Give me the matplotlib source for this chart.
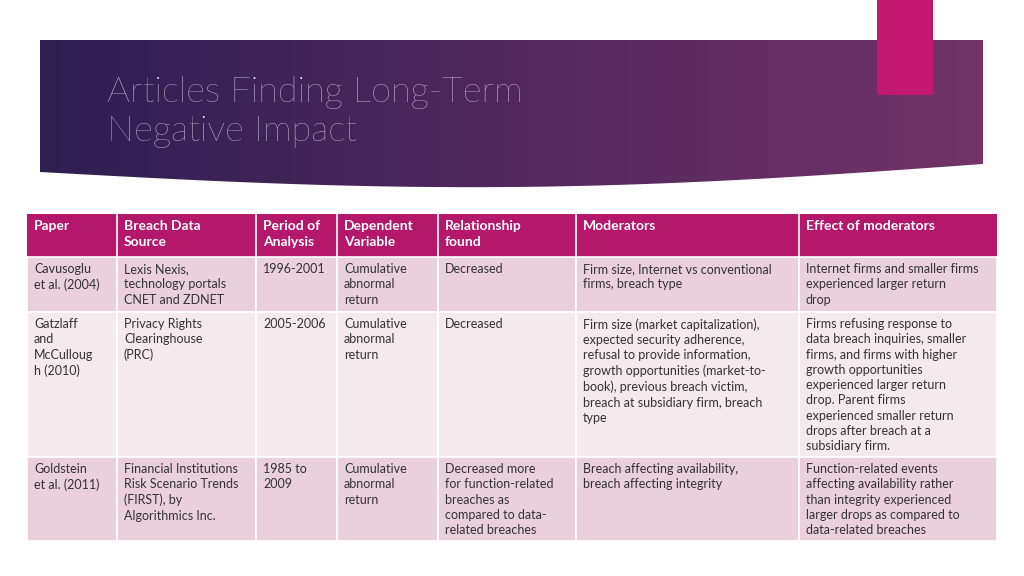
import numpy as np
import matplotlib.pyplot as plt
from matplotlib.patches import Rectangle, Polygon

title = "Articles Finding Long-Term\nNegative Impact"
headers = ["Paper", "Breach Data\nSource", "Period of\nAnalysis", "Dependent\nVariable",
           "Relationship\nfound", "Moderators", "Effect of moderators"]
rows = [
    ["Cavusoglu\net al. (2004)", "Lexis Nexis,\ntechnology portals\nCNET and ZDNET", "1996-2001",
     "Cumulative\nabnormal\nreturn", "Decreased",
     "Firm size, Internet vs conventional\nfirms, breach type",
     "Internet firms and smaller firms\nexperienced larger return\ndrop"],
    ["Gatzlaff\nand\nMcCulloug\nh (2010)", "Privacy Rights\nClearinghouse\n(PRC)", "2005-2006",
     "Cumulative\nabnormal\nreturn", "Decreased",
     "Firm size (market capitalization),\nexpected security adherence,\nrefusal to provide information,\ngrowth opportunities (market-to-\nbook), previous breach victim,\nbreach at subsidiary firm, breach\ntype",
     "Firms refusing response to\ndata breach inquiries, smaller\nfirms, and firms with higher\ngrowth opportunities\nexperienced larger return\ndrop. Parent firms\nexperienced smaller return\ndrops after breach at a\nsubsidiary firm."],
    ["Goldstein\net al. (2011)", "Financial Institutions\nRisk Scenario Trends\n(FIRST), by\nAlgorithmics Inc.", "1985 to\n2009",
     "Cumulative\nabnormal\nreturn", "Decreased more\nfor function-related\nbreaches as\ncompared to data-\nrelated breaches",
     "Breach affecting availability,\nbreach affecting integrity",
     "Function-related events\naffecting availability rather\nthan integrity experienced\nlarger drops as compared to\ndata-related breaches"],
]

col_x = [27, 117, 256, 337, 438, 576, 799, 997]
row_y = [214, 257, 312, 457, 541]
row_colors = ["#e9d0da", "#f4e9ed", "#e9d0da"]

plt.rcParams["font.family"] = "Lato"
fig = plt.figure(figsize=(10.24, 5.76), dpi=100)
ax = fig.add_axes([0, 0, 1, 1])
ax.set_xlim(0, 1024)
ax.set_ylim(576, 0)
ax.axis("off")

# banner with gradient and curved bottom
xs = np.linspace(40, 983, 80)
t = (xs - 40) / 943
bottom = 172 - 8 * t + 19 * np.sin(np.pi * t)
poly = Polygon(np.vstack([[[40, 40], [983, 40]], np.c_[xs[::-1], bottom[::-1]]]),
               closed=True, facecolor="none", edgecolor="none")
ax.add_patch(poly)
g = np.linspace(0, 1, 256)
c0 = np.array([0.18, 0.12, 0.32])
c1 = np.array([0.45, 0.20, 0.40])
img = (c0[None, None, :] * (1 - g)[None, :, None] + c1[None, None, :] * g[None, :, None])
img = np.repeat(img, 2, axis=0)
im = ax.imshow(img, extent=[40, 983, 195, 40], aspect="auto", zorder=1)
im.set_clip_path(poly)
ax.add_patch(Rectangle((877, 0), 56, 95, facecolor="#c2186f", edgecolor="none", zorder=2))
ax.text(107, 112, title, color="#ece6f0", fontsize=26, fontweight="light", va="center",
        ha="left", linespacing=1.25, zorder=3)

# table
ax.add_patch(Rectangle((col_x[0], row_y[0]), col_x[-1] - col_x[0], row_y[1] - row_y[0],
                       facecolor="#b5176b", edgecolor="none"))
for i, h in enumerate(headers):
    ax.text(col_x[i] + 7, row_y[0] + 6, h, color="white", fontsize=10, fontweight="bold",
            va="top", ha="left", linespacing=1.35)
for r, row in enumerate(rows):
    for i, t in enumerate(row):
        ax.add_patch(Rectangle((col_x[i], row_y[r + 1]), col_x[i + 1] - col_x[i],
                               row_y[r + 2] - row_y[r + 1], facecolor=row_colors[r],
                               edgecolor="white", linewidth=1.2))
        ax.text(col_x[i] + 7, row_y[r + 1] + 6, t, color="#333333", fontsize=9,
                va="top", ha="left", linespacing=1.33)
for x in col_x[1:-1]:
    ax.plot([x, x], [row_y[0], row_y[1]], color="white", lw=1.2)

fig.savefig("out.png", dpi=100, facecolor="white")
